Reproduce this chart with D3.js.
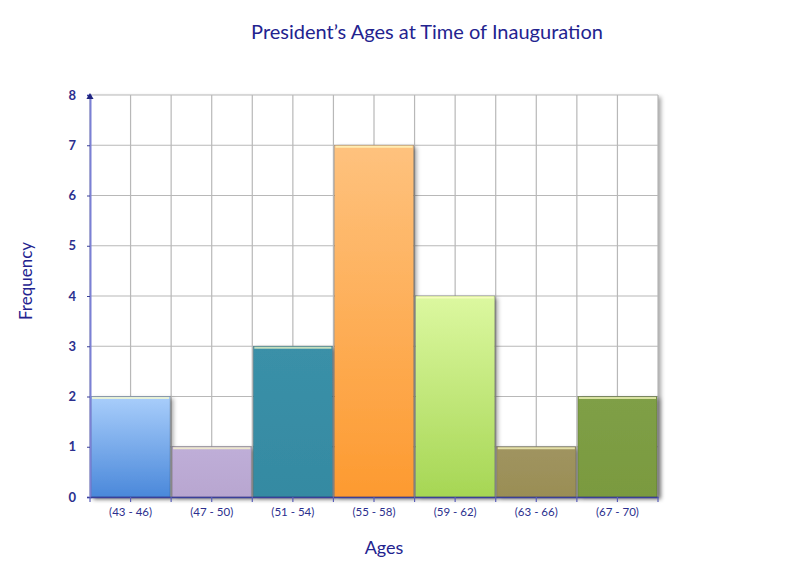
<!DOCTYPE html>
<html>
<head>
<meta charset="utf-8">
<script src="https://cdn.jsdelivr.net/npm/d3@7"></script>
<style>
  body { margin: 0; background: #fff; }
  svg text { font-family: "Lato", "Open Sans", sans-serif; }
</style>
</head>
<body>
<div id="chart"></div>
<script>
// data
const bins = ["(43 - 46)", "(47 - 50)", "(51 - 54)", "(55 - 58)", "(59 - 62)", "(63 - 66)", "(67 - 70)"];
const freq = [2, 1, 3, 7, 4, 1, 2];
const yTicks = [0, 1, 2, 3, 4, 5, 6, 7, 8];
const barTop = ["#a9cefb", "#bfaed8", "#3a90a8", "#fec27e", "#dcf8a0", "#a09460", "#7f9f46"];
const barBot = ["#4a88da", "#b8a6d0", "#358aa2", "#fd9a30", "#a6d654", "#9a8e55", "#7a9a40"];

const W = 800, H = 566;
const plotL = 90, plotR = 658, plotT = 95, plotB = 497;

const svg = d3.select("#chart").append("svg")
  .attr("width", W).attr("height", H);

const defs = svg.append("defs");

const shadow = defs.append("filter").attr("id", "shadow")
  .attr("x", "-10%").attr("y", "-10%").attr("width", "130%").attr("height", "130%");
shadow.append("feDropShadow")
  .attr("dx", 3).attr("dy", 2).attr("stdDeviation", 2)
  .attr("flood-color", "#000").attr("flood-opacity", 0.35);

bins.forEach((b, i) => {
  const g = defs.append("linearGradient").attr("id", "grad" + i)
    .attr("x1", 0).attr("y1", 0).attr("x2", 0).attr("y2", 1);
  g.append("stop").attr("offset", "0%").attr("stop-color", barTop[i]);
  g.append("stop").attr("offset", "100%").attr("stop-color", barBot[i]);
});

const x = d3.scaleBand().domain(bins).range([plotL, plotR]).padding(0);
const y = d3.scaleLinear().domain([0, 8]).range([plotB, plotT]);
const bw = x.bandwidth();

// grid background with shadow on the right
svg.append("rect")
  .attr("x", plotL).attr("y", y(8))
  .attr("width", plotR - plotL).attr("height", y(0) - y(8))
  .attr("fill", "#fff")
  .attr("filter", "url(#shadow)");

const gridX = [];
bins.forEach(b => { gridX.push(x(b)); gridX.push(x(b) + bw / 2); });
gridX.push(plotR);

svg.append("g").selectAll("line").data(gridX).join("line")
  .attr("x1", d => d).attr("x2", d => d)
  .attr("y1", y(8)).attr("y2", y(0))
  .attr("stroke", "#b8b8b8").attr("stroke-width", 1.2);

svg.append("g").selectAll("line").data(yTicks).join("line")
  .attr("x1", plotL).attr("x2", plotR)
  .attr("y1", d => y(d)).attr("y2", d => y(d))
  .attr("stroke", "#b8b8b8").attr("stroke-width", 1.2);

// bars
const bars = svg.append("g");
bars.selectAll("rect.bar").data(freq).join("rect")
  .attr("class", "bar")
  .attr("x", (d, i) => x(bins[i]) + 1)
  .attr("y", d => y(d))
  .attr("width", bw - 2)
  .attr("height", d => y(0) - y(d))
  .attr("fill", (d, i) => "url(#grad" + i + ")")
  .attr("stroke", "rgba(0,0,0,0.25)")
  .attr("stroke-width", 0.8)
  .attr("filter", "url(#shadow)");

// light top edge highlight
bars.selectAll("line.hl").data(freq).join("line")
  .attr("class", "hl")
  .attr("x1", (d, i) => x(bins[i]) + 2)
  .attr("x2", (d, i) => x(bins[i]) + bw - 2)
  .attr("y1", d => y(d) + 1.5).attr("y2", d => y(d) + 1.5)
  .attr("stroke", "rgba(255,255,200,0.7)").attr("stroke-width", 2);

// y axis
const yAxis = svg.append("g")
  .attr("transform", "translate(" + plotL + ",0)")
  .call(d3.axisLeft(y).tickValues(yTicks).tickSize(3).tickPadding(11));
yAxis.select(".domain").attr("stroke", "#7b80d4").attr("stroke-width", 2);
yAxis.selectAll(".tick line").attr("stroke", "#3a3f9a");
yAxis.selectAll(".tick text")
  .attr("fill", "#2b2f8e").attr("font-size", 13).attr("font-weight", "bold");

svg.append("path")
  .attr("d", d3.symbol().type(d3.symbolTriangle).size(22)())
  .attr("transform", "translate(" + plotL + "," + (y(8) + 2) + ")")
  .attr("fill", "#1e2380");

// x axis
const xAxis = svg.append("g")
  .attr("transform", "translate(0," + plotB + ")")
  .call(d3.axisBottom(x).tickSize(0).tickPadding(11));
xAxis.select(".domain").attr("stroke", "#3a3f9a").attr("stroke-width", 1.5);
xAxis.selectAll(".tick text")
  .attr("fill", "#2b2f8e").attr("font-size", 11.5);

svg.append("g").selectAll("line").data(gridX).join("line")
  .attr("x1", d => d).attr("x2", d => d)
  .attr("y1", plotB).attr("y2", plotB + 5)
  .attr("stroke", "#5a5fb8").attr("stroke-width", 1.2);

// titles
svg.append("text")
  .attr("x", 427).attr("y", 39)
  .attr("text-anchor", "middle")
  .attr("fill", "#23238f").attr("font-size", 20)
  .text("President\u2019s Ages at Time of Inauguration");

svg.append("text")
  .attr("x", 384).attr("y", 554)
  .attr("text-anchor", "middle")
  .attr("fill", "#23238f").attr("font-size", 18)
  .text("Ages");

svg.append("text")
  .attr("transform", "translate(32,281) rotate(-90)")
  .attr("text-anchor", "middle")
  .attr("fill", "#23238f").attr("font-size", 17)
  .text("Frequency");
</script>
</body>
</html>
